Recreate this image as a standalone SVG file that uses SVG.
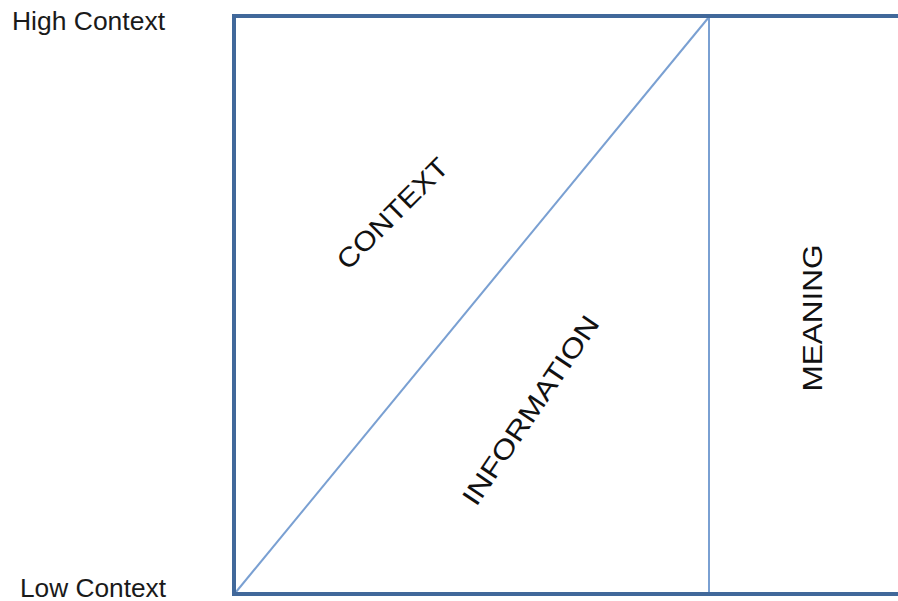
<svg xmlns="http://www.w3.org/2000/svg" width="898" height="601" viewBox="0 0 898 601">
<style>
.lbl{font-family:"Liberation Sans","Open Sans",sans-serif;font-size:25px;fill:#1a1a1a}
.in{font-family:"Liberation Sans","Open Sans",sans-serif;font-size:27px;fill:#111}
.frame{fill:none;stroke:#41689a;stroke-width:4}
.thin{fill:none;stroke:#7aa0d2;stroke-width:2}
</style>
<rect width="898" height="601" fill="#fff"/>
<g id="connectors">
<line class="thin" x1="709" y1="17" x2="709" y2="593"/>
<line class="thin" x1="236" y1="592" x2="709" y2="17"/>
<path class="frame" d="M900 16 H234 V594 H900"/>
</g>
<g id="high-context"><text class="lbl" x="12" y="30" textLength="153" lengthAdjust="spacingAndGlyphs">High Context</text></g>
<g id="low-context"><text class="lbl" x="20" y="597" textLength="146" lengthAdjust="spacingAndGlyphs">Low Context</text></g>
<g id="context"><text class="in" transform="translate(392,213) rotate(-45)" x="0" y="10" text-anchor="middle" textLength="145" lengthAdjust="spacingAndGlyphs">CONTEXT</text></g>
<g id="information"><text class="in" transform="translate(530,410) rotate(-56)" x="0" y="10" text-anchor="middle" textLength="222" lengthAdjust="spacingAndGlyphs">INFORMATION</text></g>
<g id="meaning"><text class="in" transform="translate(812,318) rotate(-90)" x="0" y="10" text-anchor="middle" textLength="147" lengthAdjust="spacingAndGlyphs">MEANING</text></g>
</svg>
